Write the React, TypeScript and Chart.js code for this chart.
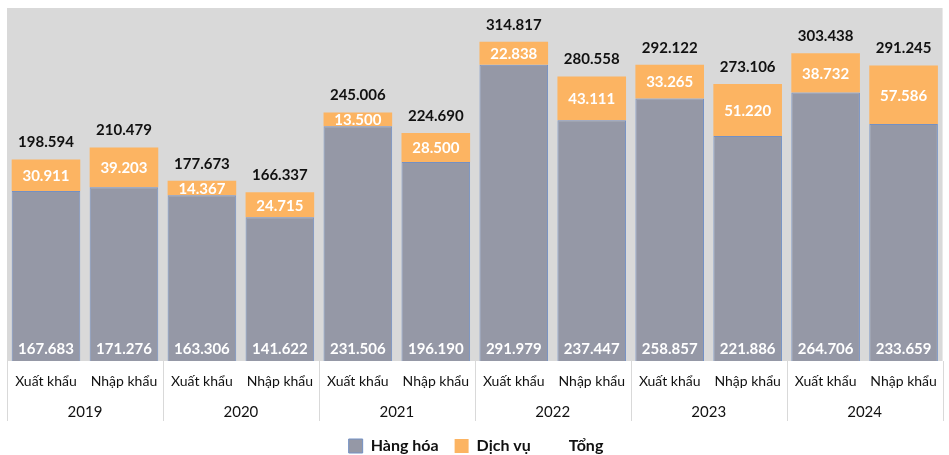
import React, { useEffect, useRef } from "react";
import { Chart, registerables } from "chart.js";

Chart.register(...registerables);

const categories = [
  "Xuất khẩu", "Nhập khẩu", "Xuất khẩu", "Nhập khẩu", "Xuất khẩu", "Nhập khẩu",
  "Xuất khẩu", "Nhập khẩu", "Xuất khẩu", "Nhập khẩu", "Xuất khẩu", "Nhập khẩu",
];
const years = ["2019", "2020", "2021", "2022", "2023", "2024"];
const hangHoa = [167.683, 171.276, 163.306, 141.622, 231.506, 196.19, 291.979, 237.447, 258.857, 221.886, 264.706, 233.659];
const dichVu = [30.911, 39.203, 14.367, 24.715, 13.5, 28.5, 22.838, 43.111, 33.265, 51.22, 38.732, 57.586];
const tong = [198.594, 210.479, 177.673, 166.337, 245.006, 224.69, 314.817, 280.558, 292.122, 273.106, 303.438, 291.245];

const FONT = "Lato, 'Open Sans', sans-serif";
const fmt = (v: number) => v.toFixed(3);

const customPlugin = {
  id: "custom",
  beforeDraw(chart: any) {
    const { ctx, chartArea: a } = chart;
    ctx.save();
    ctx.fillStyle = "#d9d9d9";
    ctx.fillRect(a.left, a.top, a.right - a.left, a.bottom - a.top);
    ctx.restore();
  },
  afterDatasetsDraw(chart: any) {
    const { ctx } = chart;
    ctx.save();
    ctx.font = `bold 15px ${FONT}`;
    ctx.textAlign = "center";
    ctx.textBaseline = "middle";
    const m0 = chart.getDatasetMeta(0);
    const m1 = chart.getDatasetMeta(1);
    m0.data.forEach((bar: any, i: number) => {
      ctx.fillStyle = "#ffffff";
      ctx.fillText(fmt(hangHoa[i]), bar.x, bar.base - 12);
    });
    m1.data.forEach((bar: any, i: number) => {
      ctx.fillStyle = "#ffffff";
      ctx.fillText(fmt(dichVu[i]), bar.x, (bar.y + bar.base) / 2 + 1);
      ctx.fillStyle = "#111111";
      ctx.fillText(fmt(tong[i]), bar.x, bar.y - 17);
    });
    ctx.restore();
  },
  afterDraw(chart: any) {
    const { ctx, chartArea: a } = chart;
    const xs = chart.scales.x;
    const step = (a.right - a.left) / categories.length;
    ctx.save();
    ctx.strokeStyle = "#d9d9d9";
    ctx.lineWidth = 1;
    for (let g = 0; g <= years.length; g++) {
      const x = Math.round(xs.getPixelForValue(g * 2) - step / 2) + 0.5;
      ctx.beginPath();
      ctx.moveTo(x, a.bottom);
      ctx.lineTo(x, a.bottom + 60);
      ctx.stroke();
    }
    ctx.font = `15px ${FONT}`;
    ctx.fillStyle = "#111111";
    ctx.textAlign = "center";
    ctx.textBaseline = "middle";
    years.forEach((y, g) => {
      const x = (xs.getPixelForValue(g * 2) + xs.getPixelForValue(g * 2 + 1)) / 2;
      ctx.fillText(y, x, a.bottom + 51);
    });
    ctx.restore();
  },
};

export default function App() {
  const ref = useRef<HTMLCanvasElement>(null);
  useEffect(() => {
    document.body.style.margin = "0";
    const chart = new Chart(ref.current!, {
      type: "bar",
      data: {
        labels: categories,
        datasets: [
          {
            label: "Hàng hóa",
            data: hangHoa,
            backgroundColor: "#9598a6",
            borderColor: "#7390c4",
            borderWidth: 1,
            stack: "s",
          },
          {
            label: "Dịch vụ",
            data: dichVu,
            backgroundColor: "#fcb462",
            borderWidth: 0,
            stack: "s",
          },
          {
            type: "line",
            label: "Tổng",
            data: tong,
            backgroundColor: "rgba(0,0,0,0)",
            borderColor: "rgba(0,0,0,0)",
            borderWidth: 0,
            pointRadius: 0,
            showLine: false,
            stack: "t",
          } as any,
        ],
      },
      options: {
        responsive: false,
        animation: false,
        datasets: { bar: { barPercentage: 0.88, categoryPercentage: 1 } },
        layout: { padding: { left: 7, right: 4, top: 8, bottom: -9 } },
        scales: {
          x: {
            stacked: true,
            grid: { display: false, drawTicks: false },
            border: { display: false },
            ticks: { color: "#111111", font: { family: FONT, size: 14 }, padding: 12, maxRotation: 0, autoSkip: false },
            afterFit: (s: any) => { s.height = 61; },
          },
          y: { stacked: true, display: false, min: 0, max: 348 },
        },
        plugins: {
          legend: {
            position: "bottom",
            labels: {
              color: "#111111",
              font: { family: FONT, size: 16, weight: "bold" },
              boxWidth: 14,
              boxHeight: 14,
              padding: 16,
            },
          },
          tooltip: { enabled: false },
        },
      },
      plugins: [customPlugin],
    });
    return () => chart.destroy();
  }, []);
  return <canvas ref={ref} width={949} height={455} style={{ display: "block" }} />;
}
